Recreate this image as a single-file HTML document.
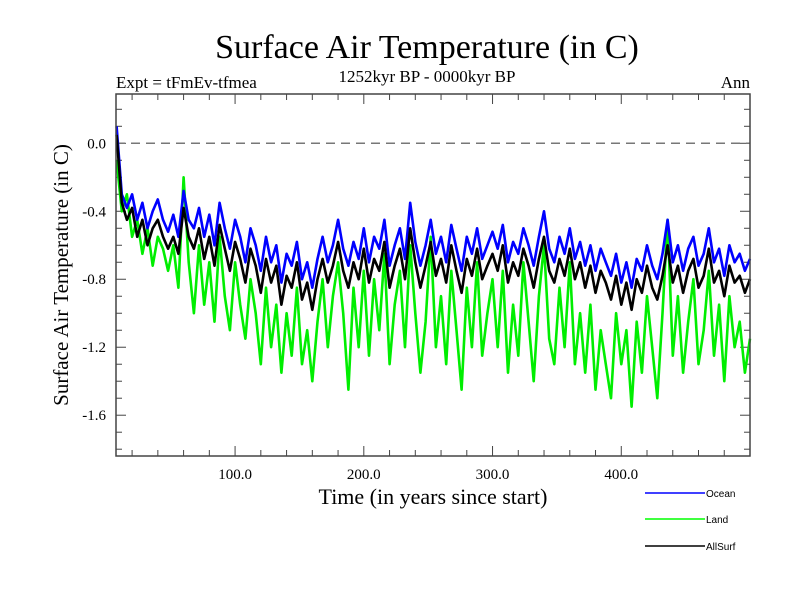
<!DOCTYPE html>
<html><head><meta charset="utf-8"><style>
html,body{margin:0;padding:0;background:#fff;}
svg{display:block;}
text{font-family:"Liberation Serif",serif;fill:#000;}
.leg{font-family:"Liberation Sans",sans-serif;font-size:10px;}
</style></head><body>
<svg id="chart" width="800" height="600" viewBox="0 0 800 600">
<text x="427" y="58" font-size="34" text-anchor="middle">Surface Air Temperature (in C)</text>
<text x="116" y="88" font-size="17">Expt = tFmEv-tfmea</text>
<text x="427" y="82" font-size="17" text-anchor="middle">1252kyr BP - 0000kyr BP</text>
<text x="750" y="88" font-size="17" text-anchor="end">Ann</text>
<text transform="translate(68,275) rotate(-90)" font-size="21" text-anchor="middle">Surface Air Temperature (in C)</text>
<text x="433" y="504" font-size="22" text-anchor="middle">Time (in years since start)</text>
<g id="ticks"></g>
<g id="plot"></g>
<rect x="116" y="94" width="634" height="362" fill="none" stroke="#444" stroke-width="1.5"/>
<g>
<line x1="645" y1="493" x2="705" y2="493" stroke="#0000ff" stroke-width="1.5"/>
<text class="leg" x="706" y="497">Ocean</text>
<line x1="645" y1="519" x2="705" y2="519" stroke="#00ff00" stroke-width="1.5"/>
<text class="leg" x="706" y="523">Land</text>
<line x1="645" y1="546" x2="705" y2="546" stroke="#000" stroke-width="1.5"/>
<text class="leg" x="706" y="550">AllSurf</text>
</g>
</svg>
<script>
const xTickLabels=["100.0","200.0","300.0","400.0"];
const xTickValues=[100,200,300,400];
const yTickLabels=["0.0","-0.4","-0.8","-1.2","-1.6"];
const yTickValues=[0,-0.4,-0.8,-1.2,-1.6];
const yearStart=8, yearStep=4;
const ocean=[0.1,-0.3,-0.38,-0.3,-0.45,-0.35,-0.5,-0.4,-0.33,-0.45,-0.52,-0.42,-0.55,
-0.28,-0.45,-0.5,-0.38,-0.55,-0.42,-0.6,-0.35,-0.5,-0.62,-0.45,-0.55,-0.7,-0.5,-0.6,-0.75,
-0.55,-0.7,-0.6,-0.82,-0.65,-0.72,-0.58,-0.8,-0.7,-0.85,-0.68,-0.55,-0.7,-0.6,-0.45,-0.62,-0.72,-0.58,-0.68,-0.5,
-0.7,-0.55,-0.62,-0.45,-0.72,-0.6,-0.5,-0.68,-0.35,-0.58,-0.72,-0.6,-0.45,-0.65,-0.55,-0.7,-0.48,-0.62,-0.75,-0.55,-0.65,-0.5,-0.68,-0.6,-0.52,
-0.62,-0.48,-0.7,-0.58,-0.65,-0.5,-0.6,-0.72,-0.55,-0.4,-0.62,-0.7,-0.55,-0.65,-0.5,-0.68,-0.58,-0.72,-0.6,-0.75,-0.62,-0.7,-0.78,-0.65,-0.82,
-0.7,-0.85,-0.68,-0.75,-0.6,-0.72,-0.8,-0.65,-0.45,-0.7,-0.6,-0.75,-0.62,-0.55,-0.72,-0.65,-0.5,-0.7,-0.62,-0.78,-0.6,-0.7,-0.65,-0.75,-0.68];
const allSurf=[0.05,-0.35,-0.45,-0.38,-0.55,-0.45,-0.6,-0.5,-0.45,-0.55,-0.62,-0.55,-0.65,
-0.38,-0.55,-0.62,-0.5,-0.68,-0.55,-0.72,-0.48,-0.62,-0.75,-0.58,-0.68,-0.82,-0.62,-0.72,-0.88,
-0.68,-0.82,-0.72,-0.95,-0.78,-0.85,-0.7,-0.92,-0.82,-0.98,-0.8,-0.68,-0.82,-0.72,-0.58,-0.75,-0.85,-0.7,-0.8,-0.62,
-0.82,-0.68,-0.75,-0.58,-0.85,-0.72,-0.62,-0.8,-0.5,-0.7,-0.85,-0.72,-0.58,-0.78,-0.68,-0.82,-0.6,-0.75,-0.88,-0.68,-0.78,-0.62,-0.8,-0.72,-0.65,
-0.75,-0.6,-0.82,-0.7,-0.78,-0.62,-0.72,-0.85,-0.68,-0.55,-0.75,-0.82,-0.68,-0.78,-0.62,-0.8,-0.7,-0.85,-0.72,-0.88,-0.75,-0.82,-0.92,-0.78,-0.95,
-0.82,-0.98,-0.8,-0.88,-0.72,-0.85,-0.92,-0.78,-0.6,-0.82,-0.72,-0.88,-0.75,-0.68,-0.85,-0.78,-0.62,-0.82,-0.75,-0.9,-0.72,-0.82,-0.78,-0.88,-0.8];
const land=[-0.1,-0.4,-0.3,-0.55,-0.45,-0.65,-0.5,-0.72,-0.55,-0.62,-0.75,-0.6,-0.85,
-0.2,-0.7,-1.0,-0.6,-0.95,-0.7,-1.05,-0.55,-0.9,-1.1,-0.7,-0.95,-1.15,-0.8,-1.0,-1.3,
-0.85,-1.2,-0.95,-1.35,-1.0,-1.25,-0.85,-1.3,-1.1,-1.4,-1.05,-0.8,-1.2,-0.9,-0.7,-1.0,-1.45,-0.85,-1.2,-0.75,
-1.25,-0.8,-1.1,-0.65,-1.3,-0.95,-0.75,-1.2,-0.6,-1.0,-1.35,-1.05,-0.55,-1.2,-0.9,-1.3,-0.75,-1.1,-1.45,-0.85,-1.2,-0.7,-1.25,-1.0,-0.8,
-1.2,-0.75,-1.35,-0.95,-1.25,-0.7,-1.05,-1.4,-0.9,-0.6,-1.15,-1.3,-0.85,-1.2,-0.7,-1.3,-1.0,-1.35,-0.95,-1.45,-1.1,-1.3,-1.5,-1.0,-1.3,
-1.1,-1.55,-1.05,-1.35,-0.9,-1.2,-1.5,-1.0,-0.45,-1.25,-0.9,-1.35,-1.05,-0.8,-1.3,-1.1,-0.75,-1.25,-0.95,-1.4,-0.9,-1.2,-1.05,-1.35,-1.15];

const NS="http://www.w3.org/2000/svg";
const L=116,R=750,T=94,B=456;
const X0=7.5,X1=500,Y0=0.29,Y1=-1.84;
function xs(v){return L+(v-X0)/(X1-X0)*(R-L);}
function ys(v){return T+(Y0-v)/(Y0-Y1)*(B-T);}
const ticks=document.getElementById('ticks');
const plot=document.getElementById('plot');
function mk(tag,attrs,parent){const e=document.createElementNS(NS,tag);for(const k in attrs)e.setAttribute(k,attrs[k]);parent.appendChild(e);return e;}

for(let v=20;v<500;v+=20){
  const major=v%100===0;const len=major?10:6;const x=xs(v);
  const t1=mk('line',{x1:x,x2:x,y1:B,y2:B-len,stroke:'#444','stroke-width':1},ticks);
  
  
  const t2=mk('line',{x1:x,x2:x,y1:T,y2:T+len,stroke:'#444','stroke-width':1},ticks);
  
  
}
xTickValues.forEach((v,i)=>{
  const t=mk('text',{x:xs(v),y:479,'font-size':15,'text-anchor':'middle'},ticks);
  t.textContent=xTickLabels[i];
  
  
});
for(let k=2;k>=-18;k--){
  const v=k/10;const major=(k%4===0);const len=major?10:6;const y=ys(v);
  const t1=mk('line',{x1:L,x2:L+len,y1:y,y2:y,stroke:'#444','stroke-width':1},ticks);
  
  
  const t2=mk('line',{x1:R,x2:R-len,y1:y,y2:y,stroke:'#444','stroke-width':1},ticks);
  
  
}
yTickValues.forEach((v,i)=>{
  const t=mk('text',{x:106,y:ys(v)+5,'font-size':15,'text-anchor':'end'},ticks);
  t.textContent=yTickLabels[i];
  
  
});
const z=mk('line',{x1:L,x2:R,y1:ys(0),y2:ys(0),stroke:'#777','stroke-width':1.5,'stroke-dasharray':'9,6'},plot);



function series(arr,color,name){
  const pts=arr.map((v,i)=>xs(yearStart+i*yearStep).toFixed(1)+','+ys(v).toFixed(1)).join(' ');
  const p=mk('polyline',{points:pts,fill:'none',stroke:color,'stroke-width':2.6,'stroke-linejoin':'round'},plot);
  
  
}
series(land,'#00ee00','land-series');
series(ocean,'#0000ff','ocean-series');
series(allSurf,'#000000','allsurf-series');
</script>
</body></html>
